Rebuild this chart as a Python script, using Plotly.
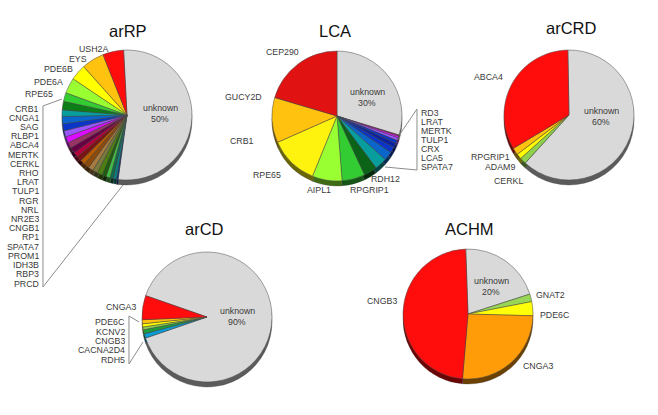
import plotly.graph_objects as go

W, H = 658, 415

arrp_genes = ["unknown", "PRCD", "RBP3", "IDH3B", "PROM1", "SPATA7", "RP1", "CNGB1", "NR2E3", "NRL", "RGR", "TULP1",
              "LRAT", "RHO", "CERKL", "MERTK", "ABCA4", "RLBP1", "SAG", "CNGA1", "CRB1", "RPE65", "PDE6A", "PDE6B",
              "EYS", "USH2A"]
arrp_values = [52.1, 0.4, 0.8, 0.8, 1.0, 1.0, 1.25, 1.25, 1.25, 1.25, 1.25, 1.25, 1.25, 1.4, 1.4, 1.5, 1.5, 1.7, 1.8,
               1.6, 2.1, 2.1, 3.8, 3.9, 5.5, 5.1]
arrp_colors = ["#d9d9d9", "#0a2a80", "#0b7f80", "#0c6b4a", "#44bb44", "#1f5c0d", "#4d8010", "#7a7a3d", "#a67a40",
               "#8c4a0d", "#b35900", "#7a1414", "#b3003c", "#660044", "#993366", "#dd0bff", "#9955ff", "#0a35c8",
               "#0b66cc", "#099e9e", "#0d7d17", "#33cc33", "#99ff33", "#ffff00", "#ffc20e", "#ff0d0d"]

lca_genes = ["unknown", "RD3", "LRAT", "MERTK", "TULP1", "CRX", "LCA5", "SPATA7", "RDH12", "RPGRIP1", "AIPL1", "RPE65",
             "CRB1", "GUCY2D", "CEP290"]
lca_values = [29.7, 0.3, 0.45, 0.7, 0.8, 1.1, 1.4, 2.2, 3.05, 3.3, 5.7, 7.4, 12.2, 11.2, 20.4]
lca_colors = ["#d9d9d9", "#993366", "#dd0bff", "#9955ff", "#0a35c8", "#0a22a0", "#0a35c8", "#0b66cc", "#099e9e",
              "#0b6318", "#33cc33", "#99ff33", "#fdf30f", "#ffc20e", "#e01212"]

arcrd_genes = ["unknown", "CERKL", "ADAM9", "RPGRIP1", "ABCA4"]
arcrd_values = [62.0, 1.6, 1.3, 1.75, 33.3]
arcrd_colors = ["#d9d9d9", "#8fd14f", "#ffff00", "#ffc20e", "#ff0d0d"]

arcd_genes = ["unknown", "RDH5", "CACNA2D4", "CNGB3", "KCNV2", "PDE6C", "CNGA3"]
arcd_values = [89.4, 1.1, 1.0, 0.7, 0.8, 1.0, 6.0]
arcd_colors = ["#d9d9d9", "#0b9bd6", "#1d9e3c", "#8fd14f", "#ffff00", "#ffc20e", "#ff0d0d"]

achm_genes = ["unknown", "GNAT2", "PDE6C", "CNGA3", "CNGB3"]
achm_values = [20.6, 1.9, 3.5, 25.9, 48.1]
achm_colors = ["#d9d9d9", "#99d655", "#ffff0a", "#ff9c08", "#ff0d0d"]


def shade(c, f=0.42):
    return "#%02x%02x%02x" % tuple(int(int(c[i:i + 2], 16) * f) for i in (1, 3, 5))


fig = go.Figure()


def pie(genes, values, colors, cx, cy, r, depth, rotation):
    for off, cols, line in ((depth, [shade(c) for c in colors], "rgba(60,60,60,0.6)"), (0, colors, "#4a4a4a")):
        fig.add_trace(go.Pie(
            labels=genes, values=values, sort=False, direction="clockwise", rotation=rotation,
            textinfo="none", hoverinfo="label+percent", showlegend=False,
            marker=dict(colors=cols, line=dict(color=line, width=0.5)),
            domain=dict(x=[(cx - r) / W, (cx + r) / W],
                        y=[1 - (cy + off + r) / H, 1 - (cy + off - r) / H]),
        ))


pie(arrp_genes, arrp_values, arrp_colors, 127, 115, 65, 5, -3)
pie(lca_genes, lca_values, lca_colors, 337, 116, 65, 5, 0)
pie(arcrd_genes, arcrd_values, arcrd_colors, 569, 115, 65, 5, -1)
pie(arcd_genes, arcd_values, arcd_colors, 207, 317, 65, 5, -70.8)
pie(achm_genes, achm_values, achm_colors, 468, 314, 65, 5, -2)

LABEL = "#3a3a3a"
FONT = "Liberation Sans"


def text(s, x, y, anchor="right", size=8.8, color=LABEL, height=None):
    fig.add_annotation(text=s, x=x / W, y=1 - y / H, xref="paper", yref="paper", xanchor=anchor, yanchor="middle",
                       showarrow=False, font=dict(family=FONT, size=size, color=color), borderpad=0, height=height)


titles = [("arRP", 128, 31), ("LCA", 335, 31), ("arCRD", 571, 28), ("arCD", 205, 229), ("ACHM", 469, 229)]
for t, x, y in titles:
    text(t, x, y, "center", 16.5, "#111111")

for a, b, x, y in [("unknown", "50%", 160, 108), ("unknown", "30%", 367, 92), ("unknown", "60%", 601, 111),
                   ("unknown", "90%", 237, 311), ("unknown", "20%", 491, 281)]:
    text(a, x, y, "center")
    text(b, x, y + 11, "center")

arrp_list = ["CRB1", "CNGA1", "SAG", "RLBP1", "ABCA4", "MERTK", "CERKL", "RHO", "LRAT", "TULP1", "RGR", "NRL", "NR2E3",
             "CNGB1", "RP1", "SPATA7", "PROM1", "IDH3B", "RBP3", "PRCD"]
for i, s in enumerate(arrp_list):
    text(s, 40, 108 + i * 175 / 19, height=9)
for s, x, y in [("RPE65", 54, 94), ("PDE6A", 64, 82), ("PDE6B", 74, 69), ("EYS", 88, 58.5), ("USH2A", 109, 49),
                ("CEP290", 300, 52), ("GUCY2D", 263, 97), ("CRB1", 255, 141), ("RPE65", 282, 175), ("AIPL1", 332, 190),
                ("RPGRIP1", 390, 190), ("RDH12", 401, 179),
                ("ABCA4", 504, 77), ("RPGRIP1", 511, 157), ("ADAM9", 516, 167), ("CERKL", 524, 181),
                ("CNGA3", 137, 307), ("CNGB3", 398, 301)]:
    text(s, x, y)
for s, y in [("PDE6C", 321), ("KCNV2", 331), ("CNGB3", 340), ("CACNA2D4", 349.5), ("RDH5", 359)]:
    text(s, 126, y, height=9)
for s, y in [("RD3", 113), ("LRAT", 122.3), ("MERTK", 131.4), ("TULP1", 140.4), ("CRX", 149.2), ("LCA5", 158),
             ("SPATA7", 167)]:
    text(s, 420, y, "left", height=8)
for s, x, y in [("GNAT2", 535, 295), ("PDE6C", 539, 315), ("CNGA3", 522, 366)]:
    text(s, x, y, "left")

leaders = [
    [(62, 99), (43, 106), (43, 287), (123, 185)],
    [(400, 134), (417, 109), (417, 170), (385, 167)],
    [(139, 322), (129, 316), (129, 364), (143, 342)],
]
for pts in leaders:
    path = "M " + " L ".join(f"{x / W:.4f} {1 - y / H:.4f}" for x, y in pts)
    fig.add_shape(type="path", path=path, xref="paper", yref="paper", line=dict(color="#8c8c8c", width=1))

fig.update_layout(width=W, height=H, margin=dict(l=0, r=0, t=0, b=0), paper_bgcolor="white", plot_bgcolor="white",
                  autosize=False)
fig.write_html("out.html", config=dict(displayModeBar=False),
               post_script="document.body.style.margin='0';document.body.style.overflow='hidden';")
